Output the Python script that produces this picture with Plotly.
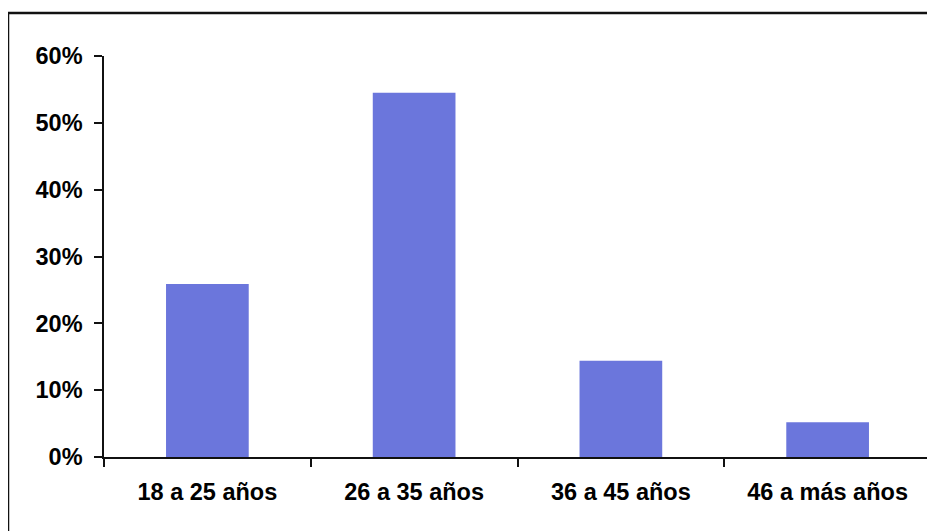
import plotly.graph_objects as go

categories = ["18 a 25 años", "26 a 35 años", "36 a 45 años", "46 a más años"]
values = [0.259, 0.545, 0.144, 0.052]
y_ticks = [0, 0.1, 0.2, 0.3, 0.4, 0.5, 0.6]

VW, VH = 935, 531
OFF = 8  # page body margin offset
W, H = VW - OFF, VH - OFF
# desired plot area in viewport pixels
PX_L, PX_R, PX_T, PX_B = 104, 931, 56, 457
L, T = PX_L - OFF, PX_T - OFF
R = W - (PX_R - OFF)
B = H - (PX_B - OFF)
pw, ph = PX_R - PX_L, PX_B - PX_T

def vx(px):
    return (px - PX_L) / pw

def vy(py):
    return (PX_B - py) / ph

fig = go.Figure(go.Bar(
    x=categories, y=values,
    marker=dict(color="#6b76dc", line=dict(width=0)),
    width=0.4,
))

font = dict(family="Liberation Sans, Arial, sans-serif", size=23.5, color="#000000", weight="bold")

fig.update_layout(
    width=W, height=H,
    margin=dict(l=L, r=R, t=T, b=B),
    paper_bgcolor="white", plot_bgcolor="white",
    showlegend=False,
    font=font,
)
fig.update_xaxes(
    type="category",
    showline=True, linecolor="#111111", linewidth=1.5,
    ticks="outside", ticklen=8, tickcolor="#111111", tickwidth=1.5,
    tickson="boundaries",
    showgrid=False, zeroline=False,
    tickfont=font,
    ticklabelstandoff=13,
)
fig.update_yaxes(
    range=[0, 0.6],
    tickvals=y_ticks, tickformat=".0%",
    showline=True, linecolor="#111111", linewidth=1.5,
    ticks="outside", ticklen=8, tickcolor="#111111", tickwidth=1.5,
    showgrid=False, zeroline=False,
    tickfont=font,
    ticklabelstandoff=7,
)
fig.add_shape(
    type="rect", xref="paper", yref="paper",
    x0=vx(8), x1=vx(960),
    y0=vy(560), y1=vy(13),
    line=dict(color="#111111", width=2.5), fillcolor="rgba(0,0,0,0)",
    layer="below",
)

fig.write_html("out.html", config={"displayModeBar": False})
